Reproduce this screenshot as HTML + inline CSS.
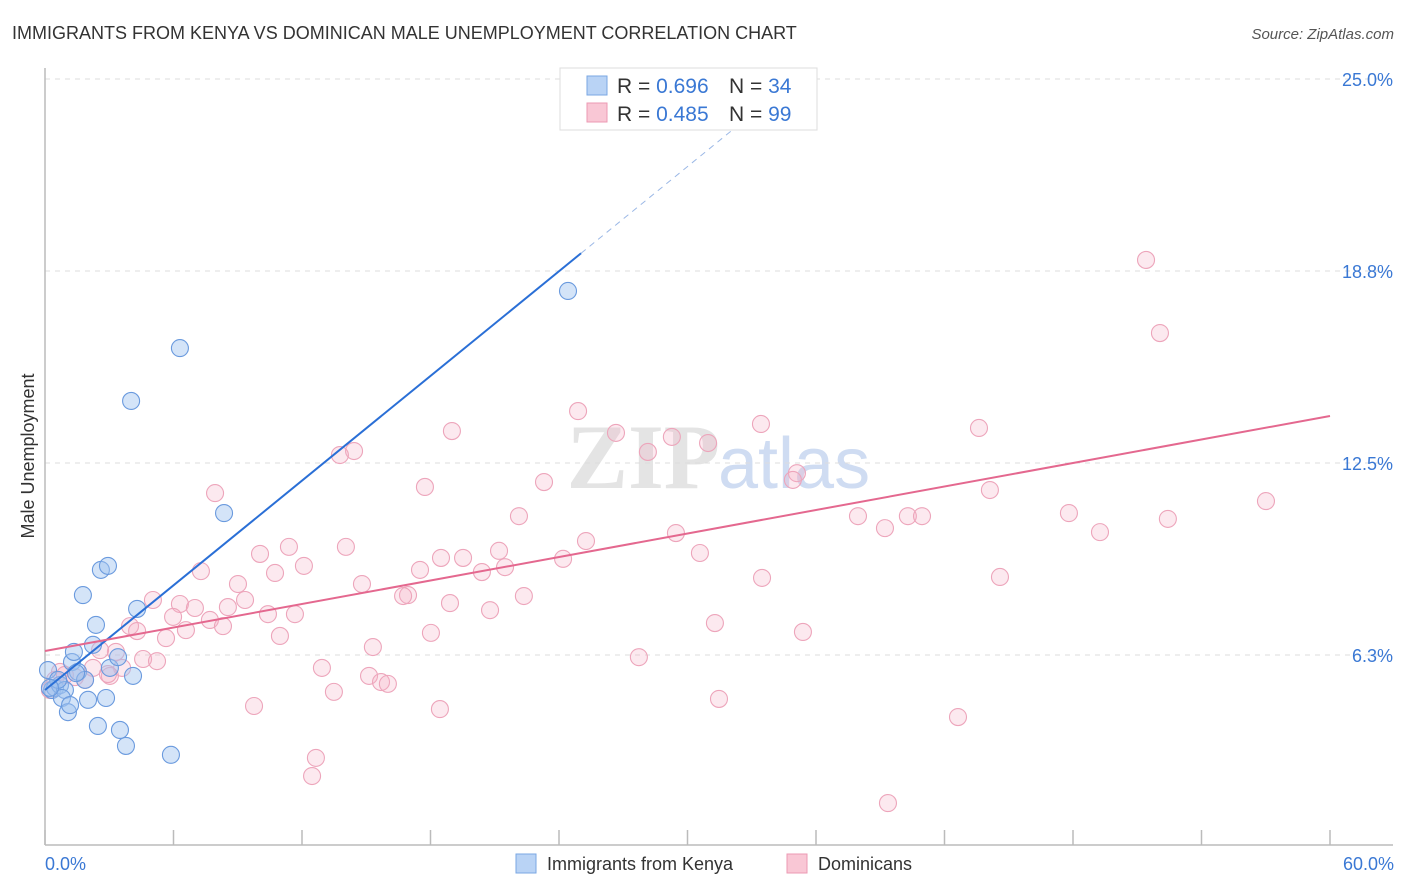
<!DOCTYPE html>
<html><head><meta charset="utf-8"><style>
body{margin:0;background:#fff;font-family:"Liberation Sans",sans-serif}
</style></head><body>
<svg width="1406" height="892" style="display:block">
<text x="12" y="39" font-size="18" fill="#333">IMMIGRANTS FROM KENYA VS DOMINICAN MALE UNEMPLOYMENT CORRELATION CHART</text>
<text x="1394" y="39" font-size="15" fill="#555" text-anchor="end" font-style="italic">Source: ZipAtlas.com</text>
<text x="720" y="488" font-size="92" fill="#e4e4e4" text-anchor="end" font-family="Liberation Serif" font-weight="bold">ZIP</text>
<text x="718" y="488" font-size="72" fill="#cfdcf2">atlas</text>
<g id="grid"></g>
<g id="axes"></g>
<g id="pts"></g>
<g id="trend"></g>
<text transform="translate(34,456) rotate(-90)" font-size="18" fill="#333" text-anchor="middle">Male Unemployment</text>
<text x="45" y="870" font-size="18" fill="#3a78d4">0.0%</text>
<text x="1394" y="870" font-size="18" fill="#3a78d4" text-anchor="end">60.0%</text>
<g>
<rect x="560" y="68" width="257" height="62" fill="#fff" stroke="#ddd"/>
<rect x="587" y="76" width="20" height="19" fill="#b9d3f5" stroke="#7aa7e3"/>
<rect x="587" y="103" width="20" height="19" fill="#f9c7d5" stroke="#ec9ab3"/>
<text x="617" y="93" font-size="21" fill="#333">R = <tspan fill="#3a78d4">0.696</tspan><tspan x="729">N = </tspan><tspan fill="#3a78d4">34</tspan></text>
<text x="617" y="121" font-size="21" fill="#333">R = <tspan fill="#3a78d4">0.485</tspan><tspan x="729">N = </tspan><tspan fill="#3a78d4">99</tspan></text>
</g>
<g>
<rect x="516" y="854" width="20" height="19" fill="#b9d3f5" stroke="#7aa7e3"/>
<text x="547" y="870" font-size="18" fill="#333">Immigrants from Kenya</text>
<rect x="787" y="854" width="20" height="19" fill="#f9c7d5" stroke="#ec9ab3"/>
<text x="818" y="870" font-size="18" fill="#333">Dominicans</text>
</g>
</svg>
<script>
const yTicks=[6.25,12.5,18.75,25];
const yTickLabels=["6.3%","12.5%","18.8%","25.0%"];
const xTicks=[0,6,12,18,24,30,36,42,48,54,60];
const blueX=[0.14,0.33,0.47,0.70,0.93,0.61,0.79,1.07,1.17,1.26,1.35,1.54,1.87,2.01,2.24,2.38,2.47,2.61,2.85,2.94,3.03,3.41,3.50,3.78,4.02,4.11,4.30,1.77,5.88,6.30,8.36,24.42,1.45,0.23];
const blueY=[5.76,5.11,5.18,5.27,5.11,5.44,4.85,4.39,4.62,6.02,6.35,5.70,5.44,4.79,6.58,7.23,3.94,9.02,4.85,9.15,5.83,6.18,3.81,3.29,14.52,5.57,7.75,8.20,3.00,16.24,10.87,18.10,5.66,5.18];
const pinkX=[28.34,32.12,51.41,52.06,24.89,33.43,43.61,19.00,26.66,29.27,30.96,14.43,13.77,28.15,35.11,34.92,17.74,23.30,7.94,44.12,57.01,22.13,37.96,47.81,40.29,40.95,52.43,39.22,29.46,49.26,25.26,14.05,11.39,21.20,10.04,19.52,30.58,24.19,18.49,21.48,20.40,12.09,7.28,17.51,10.74,33.48,44.59,9.01,14.80,5.04,22.36,16.95,16.72,9.34,6.30,18.91,7.00,20.78,8.54,5.98,10.41,11.67,7.70,3.97,4.30,6.58,8.31,31.28,18.02,5.65,10.97,15.31,35.39,3.31,2.57,4.58,5.23,3.60,12.93,2.24,0.70,3.03,2.94,1.40,1.87,15.13,15.69,16.01,27.73,0.23,0.47,13.49,9.76,31.47,18.44,42.63,12.65,12.47,39.36,0.93];
const pinkY=[24.97,24.06,19.11,16.73,14.19,13.77,13.64,13.54,13.48,13.35,13.15,12.89,12.76,12.86,12.17,11.95,11.72,11.88,11.52,11.62,11.26,10.77,10.77,10.87,10.77,10.77,10.68,10.38,10.22,10.25,9.96,9.77,9.77,9.64,9.54,9.41,9.57,9.38,9.41,9.11,8.95,9.15,8.98,9.02,8.92,8.76,8.79,8.56,8.56,8.04,8.17,8.20,8.17,8.04,7.91,7.94,7.78,7.71,7.81,7.49,7.58,7.58,7.39,7.19,7.03,7.06,7.19,7.29,6.97,6.80,6.87,6.51,7.00,6.35,6.41,6.12,6.05,5.83,5.83,5.83,5.70,5.57,5.63,5.53,5.44,5.57,5.37,5.31,6.18,5.11,5.44,5.05,4.59,4.82,4.49,4.23,2.90,2.31,1.43,5.60];
const blueTrend=[5.11,0.568]; // intercept, slope
const pinkTrend=[6.38,0.1275];
const NS="http://www.w3.org/2000/svg";
const X=v=>45+v/60*1285, Y=v=>847-v*30.72;
function mk(t,a,p){const e=document.createElementNS(NS,t);for(const k in a)e.setAttribute(k,a[k]);document.getElementById(p).appendChild(e);return e;}
yTicks.forEach((t,i)=>{
 const l=mk('line',{x1:45,x2:1393,y1:Y(t),y2:Y(t),stroke:'#ddd','stroke-dasharray':'5,5'},'grid');
 
 
 const tx=mk('text',{x:1393,y:Y(t)+7,'font-size':18,fill:'#3a78d4','text-anchor':'end'},'grid');tx.textContent=yTickLabels[i];
 
 
});
mk('line',{x1:45,x2:45,y1:68,y2:845,stroke:'#bbb','stroke-width':1.5},'axes');
mk('line',{x1:45,x2:1393,y1:845,y2:845,stroke:'#bbb','stroke-width':1.5},'axes');
xTicks.forEach(t=>{const l=mk('line',{x1:X(t),x2:X(t),y1:830,y2:845,stroke:'#bbb','stroke-width':1.5},'axes');
 
 });
pinkX.forEach((v,i)=>{const c=mk('circle',{cx:X(v),cy:Y(pinkY[i]),r:8.5,fill:'rgba(246,175,198,0.28)',stroke:'#eda5bb','stroke-width':1.1},'pts');
 
 });
blueX.forEach((v,i)=>{const c=mk('circle',{cx:X(v),cy:Y(blueY[i]),r:8.5,fill:'rgba(160,196,240,0.45)',stroke:'#6a9ade','stroke-width':1.1},'pts');
 
 });
const bx1=25.03, bx2=(25-blueTrend[0])/blueTrend[1];
let l=mk('line',{x1:X(0),y1:Y(blueTrend[0]),x2:X(bx1),y2:Y(blueTrend[0]+blueTrend[1]*bx1),stroke:'#2a6fd6','stroke-width':2},'trend');


l=mk('line',{x1:X(bx1),y1:Y(blueTrend[0]+blueTrend[1]*bx1),x2:X(bx2),y2:Y(25),stroke:'#9bb8e6','stroke-width':1,'stroke-dasharray':'6,5'},'trend');


l=mk('line',{x1:X(0),y1:Y(pinkTrend[0]),x2:X(60),y2:Y(pinkTrend[0]+pinkTrend[1]*60),stroke:'#e4688f','stroke-width':2},'trend');


</script>
</body></html>
